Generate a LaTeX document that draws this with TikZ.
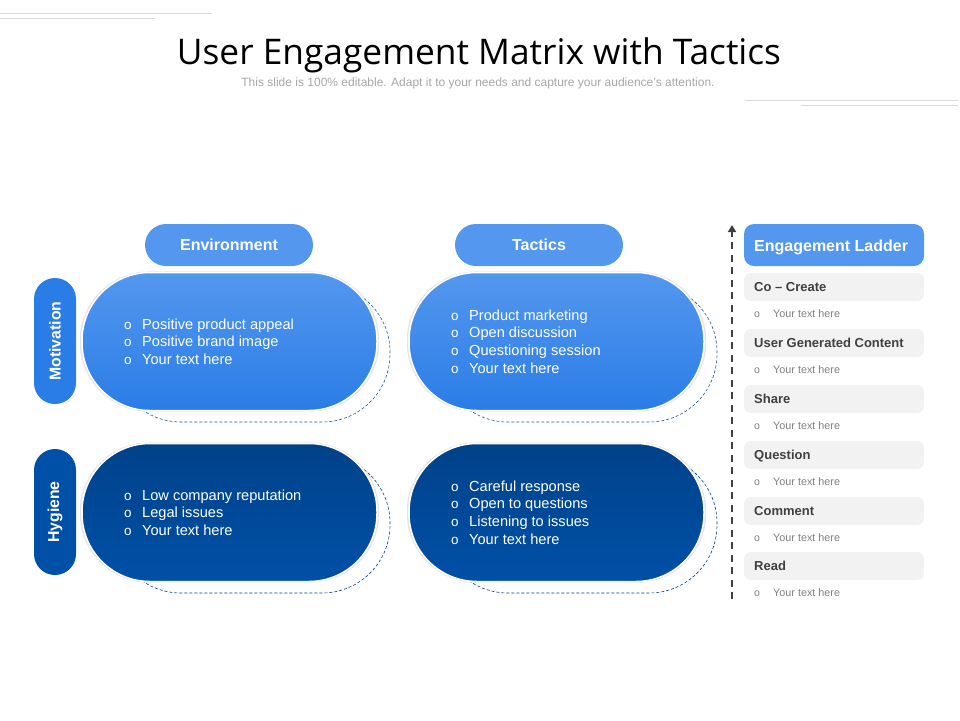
\documentclass[tikz,border=0pt]{standalone}
\usepackage{xcolor}
\usepackage{fontspec}
\setmainfont{Liberation Sans}
\newfontfamily\titlefont{Open Sans}
\usetikzlibrary{arrows.meta,shadows}
\definecolor{lightblue}{RGB}{84,151,238}
\definecolor{midblue}{RGB}{42,125,230}
\definecolor{darkblue}{RGB}{0,66,137}
\definecolor{deepblue}{RGB}{0,80,168}
\definecolor{rowgray}{RGB}{242,242,242}
\definecolor{rulegray}{RGB}{217,217,217}
\definecolor{inkgray}{RGB}{64,64,64}
\newcommand{\bulletline}[1]{\makebox[18pt][l]{\fontsize{13.5}{13.5}\selectfont o}#1}
\tikzset{
  headpill/.style={fill=lightblue,text=white,rounded corners=21pt,minimum width=168pt,minimum height=42pt,inner sep=0pt,font=\fontsize{16}{16}\selectfont\bfseries},
  sidepill/.style={text=white,rounded corners=21pt,minimum width=126pt,minimum height=42pt,inner sep=0pt,rotate=90,font=\fontsize{15.8}{15.8}\selectfont\bfseries},
  bigpill/.style={draw=white,line width=1.5pt,rounded corners=68pt,minimum width=295pt,minimum height=138pt,inner sep=0pt,
    general shadow={fill=black!40,opacity=0.25,shadow scale=1.015}},
  ghostpill/.style={draw=#1,densely dashed,line width=0.6pt,rounded corners=68pt,minimum width=277pt,minimum height=138pt,inner sep=0pt},
  listtext/.style={text=white,anchor=west,align=left,inner sep=0pt,font=\fontsize{14.6}{17.6}\selectfont},
  rowbox/.style={fill=rowgray,rounded corners=7pt,minimum width=180pt,minimum height=28pt,inner sep=0pt},
  rowlabel/.style={text=inkgray,anchor=base west,inner sep=0pt,font=\fontsize{13}{13}\selectfont\bfseries},
  rowtext/.style={text=gray,anchor=west,inner sep=0pt,font=\fontsize{10.8}{10.8}\selectfont}
}
\begin{document}
\begin{tikzpicture}[x=1pt,y=-1pt]
\useasboundingbox (0,0) rectangle (960,720);
% Corner rules
\draw[rulegray,line width=0.9pt] (0,13.5) -- (212,13.5);
\draw[rulegray,line width=0.9pt] (0,18.5) -- (155,18.5);
\draw[rulegray,line width=0.9pt] (745,100.5) -- (958,100.5);
\draw[rulegray,line width=0.9pt] (801,105.5) -- (958,105.5);
% Title
\node[inner sep=0pt,font=\titlefont\fontsize{35.3}{36}\selectfont] (title) at (479,55.5) {User Engagement Matrix with Tactics};
\node[inner sep=0pt,text=black!35,font=\fontsize{12}{12}\selectfont] (subtitle) at (478,83) {This slide is 100\% editable. Adapt it to your needs and capture your audience's attention.};
% Column heads
\node[headpill] (environment) at (229,245) {Environment};
\node[headpill] (tactics) at (539,245) {Tactics};
% Row heads
\node[sidepill,fill=midblue] (motivation) at (55,341) {Motivation};
\node[sidepill,fill=deepblue] (hygiene) at (55,512) {Hygiene};
% Dashed outlines behind the pills
\node[ghostpill=midblue!70!black] (ghostA) at (251.5,353) {};
\node[ghostpill=midblue!70!black] (ghostB) at (578.5,353) {};
\node[ghostpill=darkblue] (ghostC) at (251.5,524) {};
\node[ghostpill=darkblue] (ghostD) at (578.5,524) {};
% Matrix pills
\node[bigpill,top color=lightblue,bottom color=midblue] (envtop) at (229.5,341.5) {};
\node[bigpill,top color=lightblue,bottom color=midblue] (tactop) at (556.5,341.5) {};
\node[bigpill,top color=darkblue,bottom color=deepblue] (envlow) at (229.5,512.5) {};
\node[bigpill,top color=darkblue,bottom color=deepblue] (taclow) at (556.5,512.5) {};
% Lists
\node[listtext] (listA) at (124,341.5) {\bulletline{Positive product appeal}\\\bulletline{Positive brand image}\\\bulletline{Your text here}};
\node[listtext] (listB) at (451,341.5) {\bulletline{Product marketing}\\\bulletline{Open discussion}\\\bulletline{Questioning session}\\\bulletline{Your text here}};
\node[listtext] (listC) at (124,512.5) {\bulletline{Low company reputation}\\\bulletline{Legal issues}\\\bulletline{Your text here}};
\node[listtext] (listD) at (451,512.5) {\bulletline{Careful response}\\\bulletline{Open to questions}\\\bulletline{Listening to issues}\\\bulletline{Your text here}};
% Ladder head and arrow
\node[fill=lightblue,text=white,rounded corners=10pt,minimum width=180pt,minimum height=42pt,inner sep=0pt] (ladder) at (834,245) {};
\node[anchor=base west,inner sep=0pt,text=white,font=\fontsize{16}{16}\selectfont\bfseries] (laddertext) at (754,251) {Engagement Ladder};
\coordinate (arrowtop) at (732,225);
\coordinate (arrowend) at (732,599);
\draw[inkgray,line width=1.8pt,dash pattern=on 7pt off 5.5pt,-{Triangle[length=7pt,width=8pt]}] (arrowend) -- (arrowtop);
% Ladder rows
\foreach \name/\ypos/\rowtitle in {co/287/Co -- Create,user/343/User Generated Content,share/399/Share,question/455/Question,comment/511/Comment,read/566/Read}{
  \node[rowbox] (\name) at (834,\ypos) {};
  \node[rowlabel] (\name label) at (754,\ypos+4.6) {\rowtitle};
  \node[rowtext] (\name text) at (754,\ypos+27) {\makebox[19pt][l]{\fontsize{10.5}{10.5}\selectfont o}Your text here};
}
\end{tikzpicture}
\end{document}
